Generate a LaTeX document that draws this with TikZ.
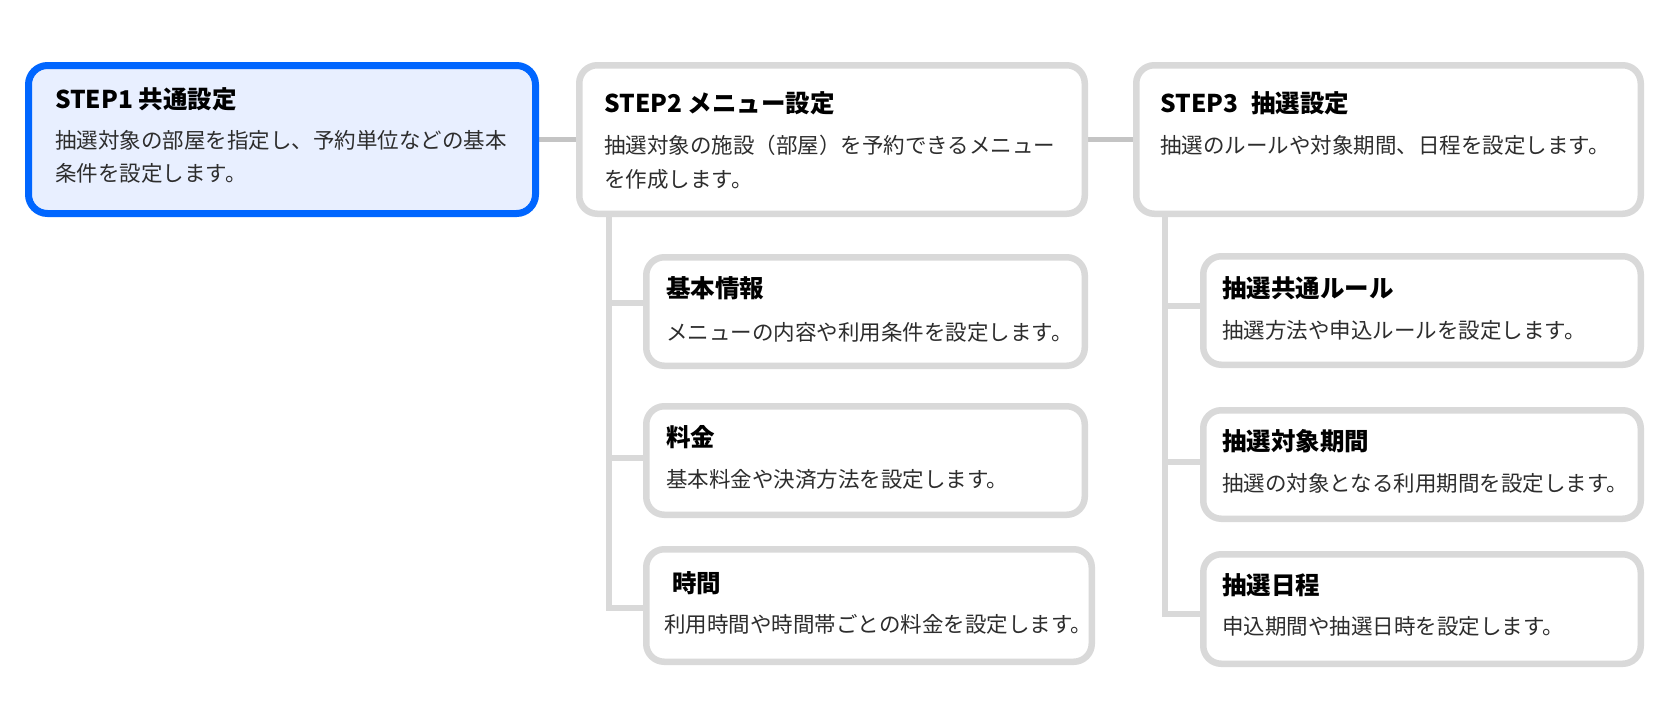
\documentclass[tikz,border=0pt]{standalone}
\usepackage{fontspec}
\setmainfont{Noto Sans CJK JP}
\newfontfamily\jpfont{Noto Sans CJK JP}
\usetikzlibrary{backgrounds}
\definecolor{blueline}{RGB}{0,102,255}
\definecolor{bluefill}{RGB}{232,239,255}
\definecolor{grayline}{RGB}{217,217,217}
\definecolor{linkgray}{RGB}{196,196,196}
\definecolor{txt}{RGB}{45,45,45}
\tikzset{
  x=1pt, y=-1pt,
  activebox/.style={draw=blueline, fill=bluefill, line width=7pt, rounded corners=19pt,
    rectangle, inner sep=0pt},
  graybox/.style={draw=grayline, fill=white, line width=6.5pt, rounded corners=18pt,
    rectangle, inner sep=0pt},
  ttl/.style={anchor=base west, inner sep=0pt, font=\jpfont\bfseries\fontsize{24.5}{28}\selectfont, text=black},
  body/.style={anchor=base west, inner sep=0pt, align=left, font=\jpfont\fontsize{21.5}{33.5}\selectfont, text=txt},
  link/.style={draw=linkgray, line width=5.5pt},
  tree/.style={draw=grayline, line width=6.5pt, line join=miter, line cap=rect},
}
\begin{document}
\begin{tikzpicture}
\useasboundingbox (0,0) rectangle (1663,724);
% main boxes
\node[activebox, minimum width=507pt, minimum height=148pt] (s1) at (282,139.5) {};
\node[graybox, minimum width=505.5pt, minimum height=148.5pt] (s2) at (832,139.5) {};
\node[graybox, minimum width=504.5pt, minimum height=148.5pt] (s3) at (1388.5,139.5) {};
% step2 children
\node[graybox, minimum width=438.5pt, minimum height=108.5pt] (c21) at (865.5,311.5) {};
\node[graybox, minimum width=438.5pt, minimum height=108.5pt] (c22) at (865.5,460.5) {};
\node[graybox, minimum width=445.5pt, minimum height=112.5pt] (c23) at (869,605.5) {};
% step3 children
\node[graybox, minimum width=437.5pt, minimum height=108.5pt] (c31) at (1422,310.5) {};
\node[graybox, minimum width=437.5pt, minimum height=108.5pt] (c32) at (1422,464.5) {};
\node[graybox, minimum width=437.5pt, minimum height=109.5pt] (c33) at (1422,609) {};

% connectors
\begin{scope}[on background layer]
  \draw[link] (s1.east) -- (s2.west);
  \draw[link] (s2.east) -- (s3.west);
  \coordinate (t2) at (609,214);
  \coordinate (t3) at (1165,214);
  \draw[tree] (t2) |- (c23.west |- {(0,608)});
  \draw[tree] (t2 |- {(0,303)}) -- (c21.west |- {(0,303)});
  \draw[tree] (t2 |- {(0,458)}) -- (c22.west |- {(0,458)});
  \draw[tree] (t3) |- (c33.west |- {(0,614)});
  \draw[tree] (t3 |- {(0,306)}) -- (c31.west |- {(0,306)});
  \draw[tree] (t3 |- {(0,462)}) -- (c32.west |- {(0,462)});
\end{scope}

% texts
\node[ttl] (s1t) at (55,108) {STEP1 共通設定};
\node[body] (s1b) at (55,181.5) {抽選対象の部屋を指定し、予約単位などの基本\\条件を設定します。};
\node[ttl] (s2t) at (604,112) {STEP2 メニュー設定};
\node[body] (s2b) at (604,187) {抽選対象の施設（部屋）を予約できるメニュー\\を作成します。};
\node[ttl] (s3t) at (1160,112) {STEP3\hspace{13pt}抽選設定};
\node[body] (s3b) at (1160,153) {抽選のルールや対象期間、日程を設定します。};

\node[ttl] (c21t) at (666,297) {基本情報};
\node[body] (c21b) at (666,340) {メニューの内容や利用条件を設定します。};
\node[ttl] (c22t) at (666,446) {料金};
\node[body] (c22b) at (666,487) {基本料金や決済方法を設定します。};
\node[ttl] (c23t) at (672,592) {時間};
\node[body] (c23b) at (664,632) {利用時間や時間帯ごとの料金を設定します。};

\node[ttl] (c31t) at (1222,297) {抽選共通ルール};
\node[body] (c31b) at (1222,338) {抽選方法や申込ルールを設定します。};
\node[ttl] (c32t) at (1222,450) {抽選対象期間};
\node[body] (c32b) at (1222,491) {抽選の対象となる利用期間を設定します。};
\node[ttl] (c33t) at (1222,594) {抽選日程};
\node[body] (c33b) at (1222,634) {申込期間や抽選日時を設定します。};
\end{tikzpicture}
\end{document}
